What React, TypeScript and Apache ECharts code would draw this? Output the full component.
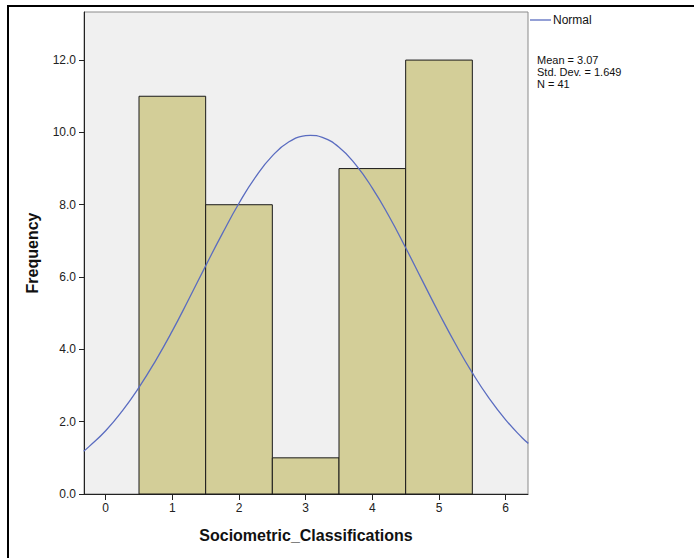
import React, { useEffect, useRef } from "react";
import * as echarts from "echarts";

const binStarts = [0.5, 1.5, 2.5, 3.5, 4.5];
const binEnds = [1.5, 2.5, 3.5, 4.5, 5.5];
const frequencies = [11, 8, 1, 9, 12];

const curveX = [-0.33, -0.25, 0, 0.25, 0.5, 0.75, 1, 1.25, 1.5, 1.75, 2, 2.25, 2.5, 2.75, 3, 3.07, 3.25, 3.5, 3.75, 4, 4.25, 4.5, 4.75, 5, 5.25, 5.5, 5.75, 6, 6.25, 6.34];
const curveY = [1.18, 1.31, 1.75, 2.3, 2.95, 3.69, 4.51, 5.4, 6.31, 7.2, 8.04, 8.77, 9.35, 9.74, 9.91, 9.92, 9.86, 9.59, 9.11, 8.46, 7.68, 6.81, 5.9, 5.0, 4.14, 3.35, 2.65, 2.05, 1.55, 1.4];

const xTicks = [0, 1, 2, 3, 4, 5, 6];
const yTicks = [0, 2, 4, 6, 8, 10, 12];
const statsLines = ["Mean = 3.07", "Std. Dev. = 1.649", "N = 41"];

export default function App() {
  const ref = useRef<HTMLDivElement>(null);
  useEffect(() => {
    if (!ref.current) return;
    const chart = echarts.init(ref.current, null, { renderer: "svg" });
    const font = "Liberation Sans, Arial, sans-serif";
    const barData = binStarts.map((s, i) => [s, binEnds[i], frequencies[i]]);
    const lineData = curveX.map((x, i) => [x, curveY[i]]);
    chart.setOption({
      animation: false,
      backgroundColor: "#ffffff",
      grid: {
        left: 84,
        top: 12,
        width: 444,
        height: 482,
        show: true,
        backgroundColor: "#f0f0f0",
        borderColor: "#8a8a8a",
        borderWidth: 1,
      },
      xAxis: {
        type: "value",
        min: -0.325,
        max: 6.335,
        splitLine: { show: false },
        axisLine: { show: true, onZero: false, lineStyle: { color: "#222", width: 1 } },
        axisTick: { show: true, customValues: xTicks, length: 6, lineStyle: { color: "#222" } },
        axisLabel: {
          customValues: xTicks,
          color: "#222",
          fontSize: 12,
          fontFamily: font,
          margin: 8,
        },
        name: "Sociometric_Classifications",
        nameLocation: "middle",
        nameGap: 33,
        nameTextStyle: { fontSize: 16, fontWeight: "bold", color: "#111", fontFamily: font },
      },
      yAxis: {
        type: "value",
        min: 0,
        max: 13.33,
        splitLine: { show: false },
        axisLine: { show: true, onZero: false, lineStyle: { color: "#222", width: 1 } },
        axisTick: { show: true, customValues: yTicks, length: 5, lineStyle: { color: "#222" } },
        axisLabel: {
          customValues: yTicks,
          color: "#222",
          fontSize: 12,
          fontFamily: font,
          margin: 8,
          formatter: (v: number) => v.toFixed(1),
        },
        name: "Frequency",
        nameLocation: "middle",
        nameGap: 44,
        nameTextStyle: { fontSize: 16, fontWeight: "bold", color: "#111", fontFamily: font },
      },
      series: [
        {
          type: "custom",
          data: barData,
          encode: { x: [0, 1], y: 2 },
          renderItem: (params: any, api: any) => {
            const p0 = api.coord([api.value(0), 0]);
            const p1 = api.coord([api.value(1), api.value(2)]);
            return {
              type: "rect",
              shape: { x: p0[0], y: p1[1], width: p1[0] - p0[0], height: p0[1] - p1[1] },
              style: { fill: "#d3ce98", stroke: "#1a1a1a", lineWidth: 1 },
            };
          },
          z: 2,
        },
        {
          type: "line",
          data: lineData,
          smooth: true,
          showSymbol: false,
          lineStyle: { color: "#5a6cc0", width: 1.3 },
          z: 3,
        },
      ],
      graphic: [
        { type: "line", shape: { x1: 7, y1: 6, x2: 694, y2: 6 }, style: { stroke: "#000", lineWidth: 2 } },
        { type: "line", shape: { x1: 8, y1: 5, x2: 8, y2: 558 }, style: { stroke: "#000", lineWidth: 2 } },
        { type: "line", shape: { x1: 530, y1: 20, x2: 551, y2: 20 }, style: { stroke: "#5a6cc0", lineWidth: 1.3 } },
        {
          type: "text",
          x: 553,
          y: 20,
          style: { text: "Normal", fill: "#111", fontSize: 12, fontFamily: font, verticalAlign: "middle" },
        },
        ...statsLines.map((t, i) => ({
          type: "text",
          x: 537,
          y: 60 + i * 12,
          style: { text: t, fill: "#111", fontSize: 11, fontFamily: font, verticalAlign: "middle" },
        })),
      ],
    });
    return () => chart.dispose();
  }, []);
  return <div ref={ref} style={{ position: "absolute", left: 0, top: 0, width: 694, height: 558 }} />;
}
